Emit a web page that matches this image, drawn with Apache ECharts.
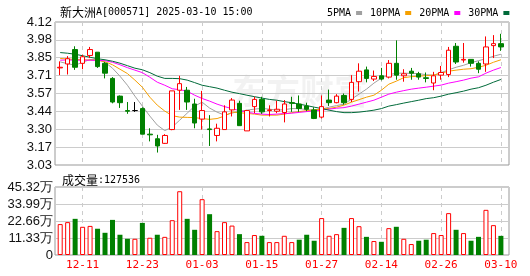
<!DOCTYPE html>
<html><head><meta charset="utf-8">
<script src="https://cdn.jsdelivr.net/npm/echarts@6/dist/echarts.min.js"></script>
<style>html,body{margin:0;padding:0;background:#fff}#c{width:530px;height:276px}</style>
</head><body><div id="c"></div>
<script>
const dates = ['12-06','12-09','12-10','12-11','12-12','12-13','12-16','12-17','12-18','12-19','12-20','12-23','12-24','12-25','12-26','12-27','12-30','12-31','01-02','01-03','01-06','01-07','01-08','01-09','01-10','01-13','01-14','01-15','01-16','01-17','01-20','01-21','01-22','01-23','01-24','01-27','02-05','02-06','02-07','02-10','02-11','02-12','02-13','02-14','02-17','02-18','02-19','02-20','02-21','02-24','02-25','02-26','02-27','02-28','03-03','03-04','03-05','03-06','03-07','03-10'];
const opens = [3.77,3.80,3.91,3.805,3.865,3.89,3.805,3.69,3.555,3.445,3.445,3.46,3.265,3.23,3.195,3.30,3.60,3.60,3.495,3.38,3.305,3.255,3.30,3.45,3.50,3.29,3.475,3.53,3.445,3.44,3.43,3.505,3.495,3.48,3.45,3.395,3.525,3.505,3.56,3.53,3.665,3.755,3.685,3.71,3.70,3.805,3.71,3.745,3.725,3.695,3.655,3.715,3.72,3.935,3.83,3.835,3.805,3.80,3.94,3.955];
const closes = [3.775,3.84,3.775,3.855,3.91,3.78,3.73,3.51,3.505,3.44,3.445,3.265,3.26,3.175,3.255,3.595,3.65,3.51,3.35,3.445,3.30,3.31,3.435,3.525,3.33,3.445,3.53,3.435,3.45,3.455,3.495,3.50,3.46,3.455,3.385,3.475,3.505,3.555,3.505,3.66,3.745,3.69,3.705,3.685,3.805,3.715,3.725,3.73,3.70,3.69,3.71,3.735,3.905,3.815,3.835,3.805,3.76,3.93,3.955,3.93];
const lows = [3.715,3.72,3.755,3.76,3.845,3.77,3.69,3.50,3.465,3.42,3.435,3.265,3.21,3.125,3.19,3.295,3.45,3.45,3.31,3.30,3.175,3.21,3.30,3.40,3.33,3.29,3.425,3.42,3.40,3.425,3.355,3.435,3.435,3.44,3.38,3.385,3.48,3.50,3.49,3.51,3.59,3.66,3.67,3.675,3.69,3.68,3.665,3.68,3.68,3.66,3.60,3.68,3.70,3.80,3.81,3.78,3.73,3.74,3.845,3.90];
const highs = [3.82,3.86,3.935,3.87,3.93,3.89,3.815,3.70,3.56,3.51,3.51,3.47,3.31,3.26,3.265,3.595,3.71,3.625,3.535,3.595,3.41,3.345,3.485,3.54,3.52,3.45,3.55,3.55,3.485,3.52,3.525,3.55,3.56,3.505,3.47,3.56,3.605,3.57,3.575,3.715,3.805,3.78,3.75,3.77,3.83,3.98,3.76,3.77,3.74,3.735,3.74,3.785,3.93,3.96,3.96,3.835,3.82,4.01,4.02,4.03];
const volumes = [20.6,21.9,24.1,18.8,19.4,17.5,14.8,23.4,13.5,10.8,10.8,21.4,11.5,13.5,12.1,23.2,42.5,24.1,16.8,37.2,27.2,15.9,21.9,19.6,13.9,8.6,13.3,12.8,8.6,8.6,12.8,8.6,10.2,13.5,9.5,24.6,12.8,13.9,18.1,24.6,19.2,12.1,9.3,8.8,17.9,18.8,10.8,7.3,9.5,10.2,14.6,13.3,27.9,16.8,14.6,9.5,12.1,30.1,19.9,12.75];
const volumeUp = [1,1,0,1,1,0,0,0,0,0,1,0,1,0,1,1,1,0,0,1,0,1,1,1,0,1,1,0,1,1,1,1,0,0,0,1,1,1,0,1,1,0,1,0,1,0,1,1,0,0,1,1,1,0,1,0,0,1,1,0];
const ma5 = [3.816,3.802,3.791,3.813,3.834,3.833,3.813,3.768,3.707,3.638,3.555,3.479,3.403,3.334,3.292,3.319,3.372,3.425,3.479,3.509,3.464,3.433,3.41,3.425,3.44,3.448,3.456,3.461,3.456,3.448,3.452,3.46,3.46,3.452,3.448,3.456,3.471,3.483,3.494,3.532,3.57,3.608,3.654,3.692,3.718,3.73,3.73,3.728,3.727,3.718,3.715,3.734,3.756,3.775,3.79,3.81,3.825,3.84,3.859,3.874];
const ma10 = [3.842,3.838,3.835,3.832,3.83,3.829,3.817,3.794,3.76,3.727,3.677,3.623,3.547,3.486,3.441,3.406,3.395,3.393,3.391,3.384,3.378,3.384,3.403,3.433,3.429,3.423,3.418,3.41,3.41,3.41,3.418,3.429,3.437,3.444,3.45,3.456,3.461,3.471,3.487,3.509,3.528,3.547,3.562,3.6,3.646,3.669,3.696,3.703,3.707,3.711,3.715,3.73,3.745,3.753,3.76,3.764,3.775,3.79,3.813,3.832];
const ma20 = [3.829,3.831,3.829,3.829,3.829,3.827,3.825,3.813,3.794,3.772,3.753,3.734,3.699,3.661,3.638,3.611,3.604,3.593,3.562,3.537,3.517,3.494,3.475,3.46,3.444,3.433,3.423,3.418,3.415,3.418,3.422,3.425,3.431,3.437,3.443,3.448,3.456,3.463,3.467,3.479,3.494,3.509,3.524,3.547,3.57,3.585,3.597,3.608,3.616,3.623,3.631,3.639,3.654,3.665,3.677,3.692,3.702,3.73,3.753,3.773];
const ma30 = [3.887,3.882,3.874,3.863,3.851,3.84,3.832,3.821,3.806,3.787,3.768,3.756,3.734,3.707,3.69,3.69,3.688,3.677,3.658,3.638,3.627,3.616,3.6,3.585,3.574,3.562,3.551,3.54,3.53,3.524,3.513,3.505,3.494,3.483,3.471,3.46,3.448,3.437,3.429,3.429,3.433,3.44,3.448,3.46,3.479,3.49,3.502,3.513,3.524,3.536,3.543,3.555,3.57,3.581,3.593,3.608,3.619,3.638,3.661,3.682];
const priceTicks = ['3.03','3.17','3.30','3.44','3.57','3.71','3.85','3.98','4.12'];
const volumeTicks = ['0','11.33万','22.66万','33.99万','45.32万'];
const lastVolume = '127536';
const titleName = '新大洲';
const titleRest = 'A[000571] 2025-03-10 15:00';

const RED = '#ff0000', GREEN = '#008000';
const candleData = opens.map((o, i) => {
  const item = { value: [o, closes[i], lows[i], highs[i]] };
  if (o === closes[i]) item.itemStyle = { color: '#000', color0: '#000', borderColor: '#000', borderColor0: '#000' };
  return item;
});
const volData = volumes.map((v, i) => ({
  value: v,
  itemStyle: volumeUp[i] ? { color: '#fff', borderColor: RED, borderWidth: 1 } : { color: GREEN, borderColor: GREEN, borderWidth: 0 }
}));
const labelIdx = (i) => i % 8 === 3;
const mono = 'DejaVu Sans Mono';
const cjk = 'Noto Sans CJK SC';

const chart = echarts.init(document.getElementById('c'), null, { renderer: 'canvas' });
const lineSeries = (name, data, color) => ({
  name, type: 'line', data, xAxisIndex: 1, yAxisIndex: 1, showSymbol: false, symbol: 'none',
  lineStyle: { width: 1, color }, itemStyle: { color }, z: 3, animation: false
});
const richTitle = { a: { fontFamily: cjk, fontSize: 12, color: '#000', fontWeight: 'normal' }, b: { fontFamily: mono, fontSize: 10, color: '#000', fontWeight: 'normal' } };
chart.setOption({
  animation: false,
  title: [
    { text: '{a|' + titleName + '}{b|' + titleRest + '}', left: 55, top: 1,
      textStyle: { fontWeight: 'normal', rich: richTitle } },
    { text: '{a|成交量}{b|:' + lastVolume + '}', left: 57, top: 169,
      textStyle: { fontWeight: 'normal', rich: richTitle } }
  ],
  legend: {
    data: ['5PMA', '10PMA', '20PMA', '30PMA'], left: 322, top: 3, align: 'right',
    icon: 'rect', itemWidth: 6, itemHeight: 4, itemGap: 8,
    textStyle: { fontFamily: mono, fontSize: 10, color: '#000', fontWeight: 'normal' }
  },
  graphic: [{
    type: 'text', left: 232, top: 74, z: -10, silent: true,
    style: { text: '东方财富', fontFamily: cjk, fontSize: 34, fontWeight: 'bold', fill: 'rgba(0,0,0,0.05)' }
  }],
  grid: [
    { left: 55, top: 22, width: 454, height: 143, show: true, borderColor: '#999', borderWidth: 1, backgroundColor: 'transparent' },
    { left: 60.2, top: 22, width: 440.7, height: 143 },
    { left: 55, top: 187, width: 454, height: 68, show: true, borderColor: '#999', borderWidth: 1, backgroundColor: 'transparent' },
    { left: 60.2, top: 187, width: 440.7, height: 68 }
  ],
  xAxis: [
    { gridIndex: 0, type: 'value', show: false, min: 0, max: 1 },
    { gridIndex: 1, type: 'category', data: dates, boundaryGap: false,
      axisLine: { show: false }, axisTick: { show: false }, axisLabel: { show: false },
      splitLine: { show: true, interval: labelIdx, lineStyle: { color: '#ccc', type: [4, 4], width: 1 } } },
    { gridIndex: 2, type: 'value', show: false, min: 0, max: 1 },
    { gridIndex: 3, type: 'category', data: dates, boundaryGap: false,
      axisLine: { show: false }, axisTick: { show: false },
      axisLabel: { show: true, interval: labelIdx, color: RED, fontFamily: mono, fontSize: 11, margin: 5 },
      splitLine: { show: true, interval: labelIdx, lineStyle: { color: '#ccc', type: [4, 4], width: 1 } } }
  ],
  yAxis: [
    { gridIndex: 0, type: 'value', min: 3.03, max: 4.12, interval: 0.13625,
      axisLine: { show: false }, axisTick: { show: false },
      axisLabel: { margin: 3, color: '#111', fontFamily: 'Liberation Sans', fontSize: 13, formatter: (v, i) => priceTicks[i] },
      splitLine: { show: true, lineStyle: { color: '#ccc', width: 1 } } },
    { gridIndex: 1, type: 'value', min: 3.03, max: 4.12, show: false, splitLine: { show: false } },
    { gridIndex: 2, type: 'value', min: 0, max: 45.32, interval: 11.33,
      axisLine: { show: false }, axisTick: { show: false },
      axisLabel: { margin: 2, color: '#111', fontFamily: 'Liberation Sans', fontSize: 13, formatter: (v, i) => volumeTicks[i] },
      splitLine: { show: true, lineStyle: { color: '#ccc', width: 1 } } },
    { gridIndex: 3, type: 'value', min: 0, max: 45.32, show: false, splitLine: { show: false } }
  ],
  series: [
    { name: 'K', type: 'candlestick', xAxisIndex: 1, yAxisIndex: 1, data: candleData, barWidth: 5, z: 4,
      itemStyle: { color: '#fff', color0: GREEN, borderColor: RED, borderColor0: GREEN, borderWidth: 1 } },
    lineSeries('5PMA', ma5, '#a0a0a0'),
    lineSeries('10PMA', ma10, '#f5a000'),
    lineSeries('20PMA', ma20, '#ff00ff'),
    lineSeries('30PMA', ma30, '#006a3a'),
    { name: 'VOL', type: 'bar', xAxisIndex: 3, yAxisIndex: 3, data: volData, barWidth: 5 }
  ]
});
</script></body></html>
